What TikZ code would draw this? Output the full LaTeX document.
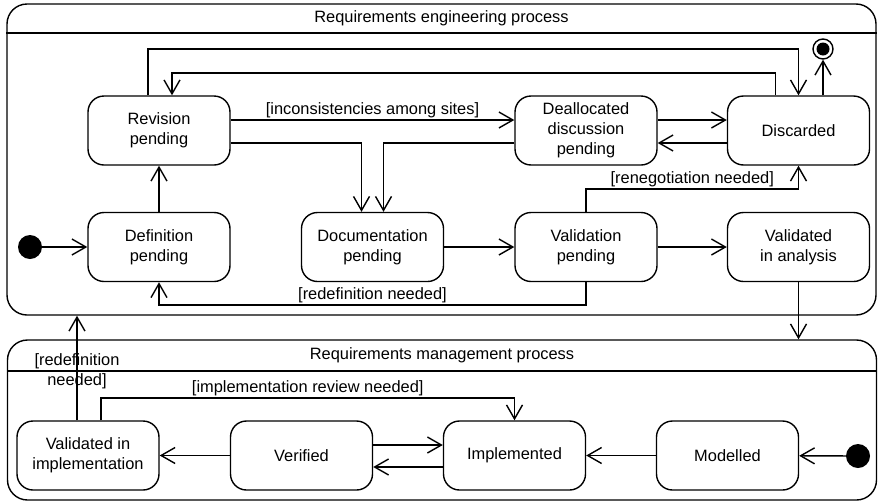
\documentclass[tikz,border=0pt]{standalone}
\usepackage{fontspec}
\setmainfont{Liberation Sans}
\usetikzlibrary{arrows.meta}
\tikzset{
  statebox/.style={draw, rounded corners=16pt, line width=1.4pt, minimum width=142pt, minimum height=69pt, align=center, inner sep=2pt},
  region/.style={draw, rounded corners=20pt, line width=1.4pt, inner sep=0pt},
  initdot/.style={circle, fill=black, inner sep=0pt, minimum size=24pt},
  trans/.style={line width=1.4pt, -{Straight Barb[length=14pt, width=16pt, line width=1.4pt]}},
  guard/.style={inner sep=1.5pt}
}
\begin{document}
\begin{tikzpicture}[x=1pt, y=-1pt, font=\fontsize{16.4}{20}\selectfont]
\useasboundingbox (0,0) rectangle (878,501);
\node[region, minimum width=869pt, minimum height=311pt] (eng) at (441.5,159.5) {};
\draw[line width=1.4pt] (eng.west |- 0,33) -- (eng.east |- 0,33);
\node (engtitle) at (441.5,18) {Requirements engineering process};
\node[region, minimum width=869pt, minimum height=160pt] (mgmt) at (442,420) {};
\draw[line width=1.4pt] (mgmt.west |- 0,371) -- (mgmt.east |- 0,371);
\node (mgmttitle) at (442,355) {Requirements management process};

\node[initdot] (ini) at (30,247) {};
\node[statebox] (rev) at (159,130.5) {Revision\\pending};
\node[statebox] (def) at (159,247) {Definition\\pending};
\node[statebox] (doc) at (372.5,247) {Documentation\\pending};
\node[statebox] (dea) at (586,130.5) {Deallocated\\discussion\\pending};
\node[statebox] (val) at (586,247) {Validation\\pending};
\node[statebox] (dis) at (798.5,130.5) {Discarded};
\node[statebox] (vana) at (798.5,247) {Validated\\in analysis};
\node[draw, circle, line width=1.4pt, inner sep=0pt, minimum size=20pt] (fin) at (823,49) {};
\node[circle, fill=black, inner sep=0pt, minimum size=13pt] (finc) at (fin) {};

\node[statebox] (vimp) at (88,455.5) {Validated in\\implementation};
\node[statebox] (ver) at (301.5,455.5) {Verified};
\node[statebox] (imp) at (514.5,455.5) {Implemented};
\node[statebox] (mod) at (727.5,455.5) {Modelled};
\node[initdot] (ini2) at (858,456) {};

\draw[trans] (ini) -- (def);
\draw[trans] (def) -- (rev);
\draw[trans] (rev.east |- 0,120) -- node[above, guard] {[inconsistencies among sites]} (dea.west |- 0,120);
\draw[trans] (rev.east |- 0,143) -| ([xshift=-11pt]doc.north);
\draw[trans] (dea.west |- 0,143) -| ([xshift=11pt]doc.north);
\draw[trans] (dea.east |- 0,120) -- (dis.west |- 0,120);
\draw[trans] (dis.west |- 0,143) -- (dea.east |- 0,143);
\draw[trans] ([xshift=-11pt]rev.north) -- ([xshift=-11pt]rev.north |- 0,49) -| (dis.north);
\draw[trans] ([xshift=-23pt]dis.north) -- ([xshift=-23pt]dis.north |- 0,73) -| ([xshift=13pt]rev.north);
\draw[trans] (fin |- dis.north) -- (fin);
\draw[trans] (doc) -- (val);
\draw[trans] (val) -- (vana);
\draw[trans] (val.north) -- (val.north |- 0,189) -| node[pos=.25, above, guard] {[renegotiation needed]} (dis.south);
\draw[trans] (val.south) -- (val.south |- 0,305) -| node[pos=.25, above, guard] {[redefinition needed]} (def.south);
\draw[trans] (vana.south) -- (vana.south |- mgmt.north);

\draw[trans] (ini2) -- (mod);
\draw[trans] (mod) -- (imp);
\draw[trans] (imp.west |- 0,467) -- (ver.east |- 0,467);
\draw[trans] (ver.east |- 0,445) -- (imp.west |- 0,445);
\draw[trans] (ver) -- (vimp);
\draw[trans] ([xshift=13pt]vimp.north) -- ([xshift=13pt]vimp.north |- 0,398) -| node[pos=.25, above, guard] {[implementation review needed]} (imp.north);
\draw[trans] ([xshift=-11pt]vimp.north) -- node[pos=.47, align=center] {[redefinition\\needed]} ([xshift=-11pt]vimp.north |- eng.south);
\end{tikzpicture}
\end{document}
